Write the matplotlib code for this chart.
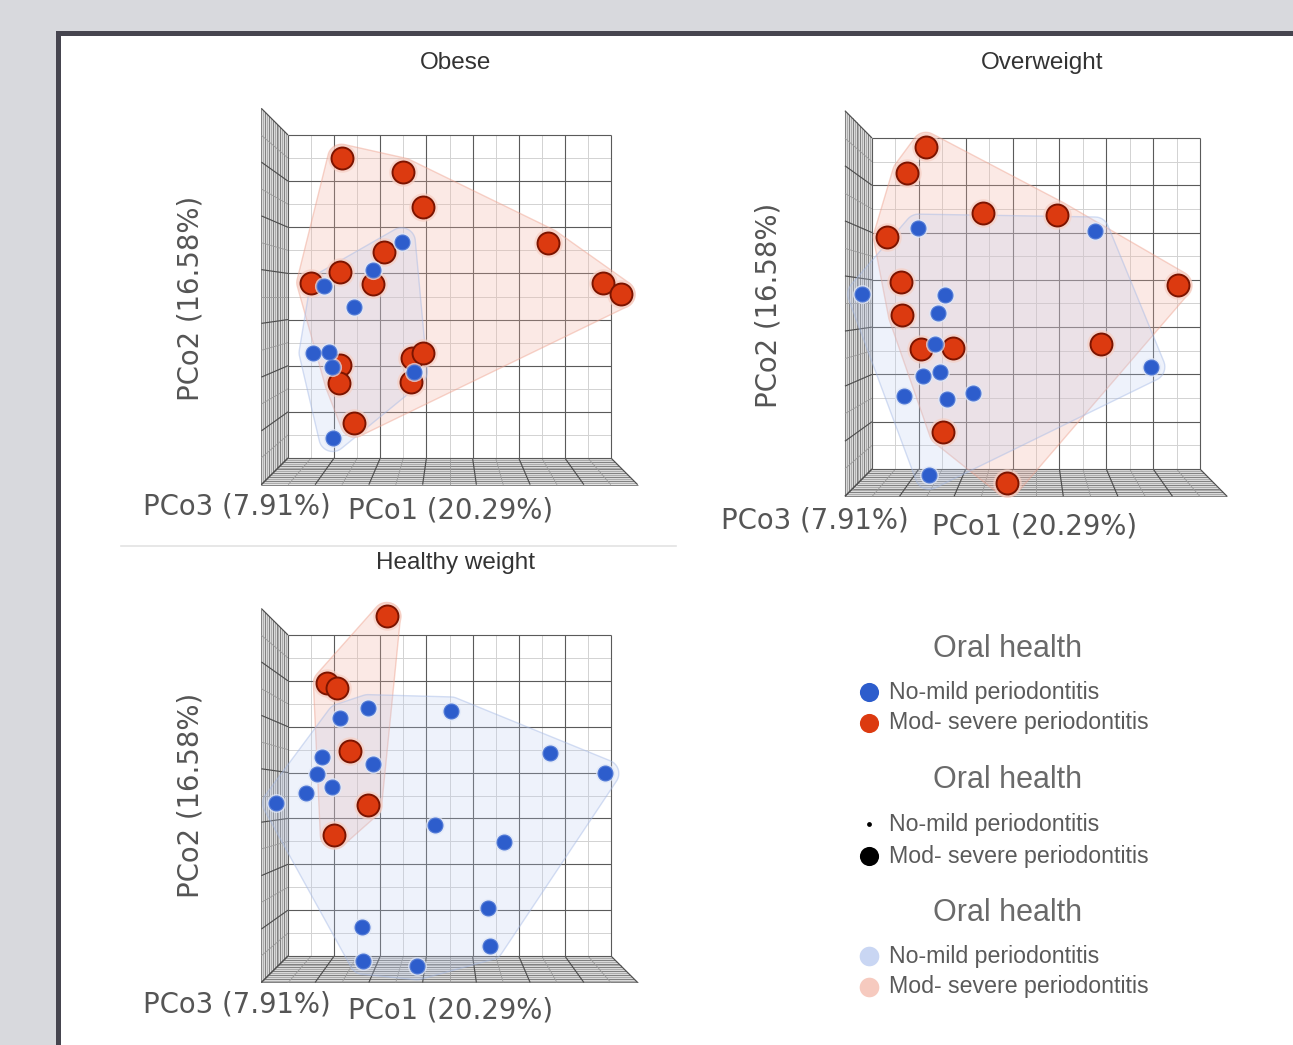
import numpy as np
import matplotlib.pyplot as plt
from matplotlib.patches import Polygon, Rectangle

W, H = 1293, 1045

# PCoA scores (PCo1 = x, PCo2 = y)
# nm = No-mild periodontitis, ms = Mod- severe periodontitis
obese_nm_pc1 = [-0.104, -0.165, -0.272, -0.206, -0.296, -0.261, -0.254, -0.078, -0.253]
obese_nm_pc2 = [0.119, 0.057, 0.023, -0.022, -0.122, -0.120, -0.152, -0.163, -0.306]
obese_ms_pc1 = [-0.234, -0.100, -0.058, 0.214, -0.142, -0.237, -0.301, -0.165,
                0.333, 0.372, -0.237, -0.240, -0.082, -0.058, -0.084, -0.206]
obese_ms_pc2 = [0.300, 0.270, 0.195, 0.117, 0.097, 0.054, 0.030, 0.027,
                0.029, 0.005, -0.148, -0.187, -0.134, -0.123, -0.185, -0.275]

over_nm_pc1 = [-0.251, 0.126, -0.372, -0.194, -0.209, -0.216, -0.205, -0.241,
               -0.282, -0.189, -0.134, 0.245, -0.228]
over_nm_pc2 = [0.159, 0.153, 0.020, 0.018, -0.021, -0.086, -0.144, -0.153,
               -0.196, -0.203, -0.189, -0.134, -0.363]
over_ms_pc1 = [-0.235, -0.276, -0.114, 0.044, -0.317, -0.289, -0.285, -0.246,
               -0.178, 0.302, 0.138, -0.198, -0.061]
over_ms_pc2 = [0.332, 0.277, 0.191, 0.187, 0.141, 0.046, -0.024, -0.097,
               -0.095, 0.039, -0.086, -0.271, -0.379]

healthy_nm_pc1 = [-0.177, -0.237, 0.003, -0.277, -0.165, -0.288, -0.254, -0.312, -0.375,
                  0.218, 0.337, -0.031, 0.118, 0.083, -0.190, 0.088, -0.187, -0.071]
healthy_nm_pc2 = [0.190, 0.170, 0.185, 0.085, 0.069, 0.046, 0.019, 0.006, -0.017,
                  0.093, 0.048, -0.064, -0.102, -0.245, -0.286, -0.328, -0.360, -0.372]
healthy_ms_pc1 = [-0.136, -0.265, -0.244, -0.216, -0.177, -0.250]
healthy_ms_pc2 = [0.391, 0.245, 0.234, 0.098, -0.021, -0.086]

axis_labels = ["PCo1 (20.29%)", "PCo2 (16.58%)", "PCo3 (7.91%)"]
groups = ["No-mild periodontitis", "Mod- severe periodontitis"]
legend_title = "Oral health"

BLUE = "#2d5dcc"
RED = "#dc3a10"
L = 0.35      # half size of the back wall
K = 1.165     # perspective factor of the front edge


def rounded_hull(xs, ys, pad):
    # convex hull of small circles around every point -> rounded hull
    pts = []
    for x, y in zip(xs, ys):
        for a in np.linspace(0, 2 * np.pi, 36, endpoint=False):
            pts.append((x + pad * np.cos(a), y + pad * np.sin(a)))
    pts = sorted(pts)

    def cross(o, a, b):
        return (a[0] - o[0]) * (b[1] - o[1]) - (a[1] - o[1]) * (b[0] - o[0])

    lower, upper = [], []
    for p in pts:
        while len(lower) >= 2 and cross(lower[-2], lower[-1], p) <= 0:
            lower.pop()
        lower.append(p)
    for p in reversed(pts):
        while len(upper) >= 2 and cross(upper[-2], upper[-1], p) <= 0:
            upper.pop()
        upper.append(p)
    return np.array(lower[:-1] + upper[:-1])


def draw_box(ax):
    majors = np.linspace(-L, L, 8)
    minors = majors[:-1] + 0.05
    kw = dict(clip_on=False, solid_capstyle="butt")
    # side walls
    ax.add_patch(Polygon([(-L, -L), (-L, L), (-L * K, L * K), (-L * K, -L * K)],
                         closed=True, facecolor="#dadada", edgecolor="none", clip_on=False, zorder=0))
    ax.add_patch(Polygon([(-L, -L), (L, -L), (L * K, -L * K), (-L * K, -L * K)],
                         closed=True, facecolor="#dadada", edgecolor="none", clip_on=False, zorder=0))
    for i, t in enumerate(np.linspace(0, 1, 15)):
        s = L * (1 + (K - 1) * t)
        c = "#7a7a7a" if i % 2 == 0 else "#a8a8a8"
        ax.plot([-s, -s], [-s, s], color=c, lw=0.65, zorder=1, **kw)
        ax.plot([-s, s], [-s, -s], color=c, lw=0.65, zorder=1, **kw)
    for v in minors:
        ax.plot([-L, -L * K], [v, v * K], color="#9a9a9a", lw=0.6, zorder=1, **kw)
        ax.plot([v, v * K], [-L, -L * K], color="#9a9a9a", lw=0.6, zorder=1, **kw)
    for v in majors:
        ax.plot([-L, -L * K], [v, v * K], color="#4e4e4e", lw=0.85, zorder=1, **kw)
        ax.plot([v, v * K], [-L, -L * K], color="#4e4e4e", lw=0.85, zorder=1, **kw)
    # back wall
    for v in minors:
        ax.plot([v, v], [-L, L], color="#d2d2d2", lw=0.7, zorder=1, **kw)
        ax.plot([-L, L], [v, v], color="#d2d2d2", lw=0.7, zorder=1, **kw)
    for v in majors:
        ax.plot([v, v], [-L, L], color="#5a5a5a", lw=0.8, zorder=1, **kw)
        ax.plot([-L, L], [v, v], color="#5a5a5a", lw=0.8, zorder=1, **kw)


def panel(fig, box, nm_x, nm_y, ms_x, ms_y):
    x0, y0, x1, y1 = box
    ax = fig.add_axes([x0 / W, 1 - y1 / H, (x1 - x0) / W, (y1 - y0) / H], zorder=2)
    ax.set_xlim(-L, L)
    ax.set_ylim(-L, L)
    ax.axis("off")
    draw_box(ax)
    for xs, ys, fc, ec, a in [(ms_x, ms_y, "#f4b3a3", "#eea08c", 0.28),
                              (nm_x, nm_y, "#bccdf0", "#a3b8e6", 0.25)]:
        hp = rounded_hull(xs, ys, 0.03)
        ax.add_patch(Polygon(hp, closed=True, facecolor=fc, alpha=a, edgecolor="none",
                             clip_on=False, zorder=2))
        ax.add_patch(Polygon(hp, closed=True, facecolor="none", edgecolor=ec, alpha=0.45,
                             lw=1.0, clip_on=False, zorder=2))
    ax.scatter(ms_x, ms_y, s=420, color="#f7cfc3", alpha=0.7, linewidths=0, clip_on=False, zorder=3)
    ax.scatter(ms_x, ms_y, s=250, color=RED, edgecolors="#7c1400", linewidths=1.4,
               clip_on=False, zorder=4)
    ax.scatter(nm_x, nm_y, s=190, color="#dfe7f8", alpha=0.7, linewidths=0, clip_on=False, zorder=5)
    ax.scatter(nm_x, nm_y, s=115, color=BLUE, edgecolors="#4f78d6", linewidths=0.8,
               clip_on=False, zorder=6)
    return ax


fig = plt.figure(figsize=(W / 100, H / 100), dpi=100)
fig.patch.set_facecolor("#d8d9dd")

bg = fig.add_axes([0, 0, 1, 1], zorder=0)
bg.set_xlim(0, W)
bg.set_ylim(H, 0)
bg.axis("off")
bg.add_patch(Rectangle((57.5, 32.5), 1400, 1200, facecolor="white", edgecolor="#46454f", lw=3.6))
bg.plot([121, 676], [546, 546], color="#e3e3e3", lw=1.2)

panel(fig, (288, 135, 611, 458), obese_nm_pc1, obese_nm_pc2, obese_ms_pc1, obese_ms_pc2)
panel(fig, (872, 138, 1200, 469), over_nm_pc1, over_nm_pc2, over_ms_pc1, over_ms_pc2)
panel(fig, (288, 635, 611, 956), healthy_nm_pc1, healthy_nm_pc2, healthy_ms_pc1, healthy_ms_pc2)

title_kw = dict(fontsize=17.5, color="#333333", family="Liberation Sans", ha="center", va="center")
bg.text(456, 63, "Obese", **title_kw)
bg.text(1042, 63, "Overweight", **title_kw)
bg.text(456, 563, "Healthy weight", **title_kw)

lab_kw = dict(fontsize=19.8, color="#555555", family="DejaVu Sans", va="center")
for pc2_xy, pc3_xy, pc1_xy in [((190, 298), (143, 506), (348, 511)),
                               ((768, 305), (721, 521), (932, 526)),
                               ((190, 795), (143, 1004), (348, 1010))]:
    bg.text(pc2_xy[0], pc2_xy[1], axis_labels[1], rotation=90, ha="center", **lab_kw)
    bg.text(pc3_xy[0], pc3_xy[1], axis_labels[2], ha="left", **lab_kw)
    bg.text(pc1_xy[0], pc1_xy[1], axis_labels[0], ha="left", **lab_kw)

# legends: colour, size, hull colour
leg_kw = dict(fontsize=16.7, color="#5a5a5a", family="Liberation Sans", va="center", ha="left")
head_kw = dict(fontsize=22, color="#6a6a6a", family="Liberation Sans", va="center", ha="center")
legend_rows = [
    (649, [(692, BLUE, 190), (723, RED, 190)]),
    (780, [(824, "black", 12), (856, "black", 190)]),
    (913, [(956, "#c9d6f3", 200), (987, "#f6cabf", 200)]),
]
for ty, entries in legend_rows:
    bg.text(1008, ty, legend_title, **head_kw)
    for (yy, c, s), name in zip(entries, groups):
        bg.scatter([869], [yy], s=s, color=c, linewidths=0)
        bg.text(889, yy, name, **leg_kw)

fig.savefig("out.png", dpi=100, facecolor=fig.get_facecolor())
